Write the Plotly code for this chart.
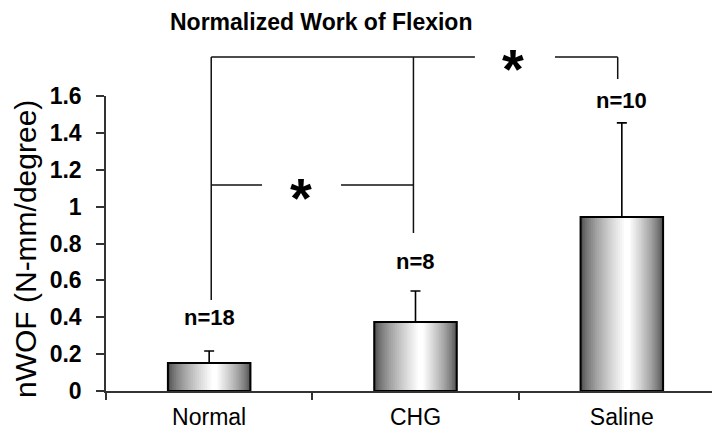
import plotly.graph_objects as go

# ---- data ----
categories = ["Normal", "CHG", "Saline"]
means = [0.152, 0.374, 0.944]
errors = [0.065, 0.168, 0.51]
n_labels = ["n=18", "n=8", "n=10"]
y_ticks = [0, 0.2, 0.4, 0.6, 0.8, 1, 1.2, 1.4, 1.6]
y_tick_text = ["0", "0.2", "0.4", "0.6", "0.8", "1", "1.2", "1.4", "1.6"]

FONT = "Liberation Sans, Arial, sans-serif"
BAR_W = 0.4
Y_MAX = 1.6

fig = go.Figure()

# gradient fill emulated with overlaid bars of decreasing width
N_LAYERS = 22
for k in range(N_LAYERS):
    t = k / (N_LAYERS - 1)
    w = BAR_W * (1 - 0.93 * t)
    shade = int(78 + (255 - 78) * (t ** 0.7))
    shift = 0.025 * t
    fig.add_trace(go.Bar(
        x=categories, y=means,
        width=[w] * 3, offset=[-w / 2 + shift] * 3,
        marker=dict(color=f"rgb({shade},{shade},{shade})", line=dict(width=0)),
        hoverinfo="skip", showlegend=False,
    ))

# outline + error bars
fig.add_trace(go.Bar(
    x=categories, y=means, width=[BAR_W] * 3,
    marker=dict(color="rgba(0,0,0,0)", line=dict(color="black", width=2)),
    error_y=dict(type="data", array=errors, arrayminus=[0] * 3, symmetric=False,
                 color="black", thickness=1.6, width=5),
    showlegend=False,
))


def px(i):
    return (i + 0.5) / 3


def py(v):
    return v / Y_MAX


line = dict(color="#111", width=1.5)
shapes = []
top_y = 1.811
low_y = 1.117
# vertical drops
shapes.append(dict(type="line", xref="paper", yref="paper", x0=px(0.01), x1=px(0.01), y0=py(0.494), y1=py(top_y), line=line))
shapes.append(dict(type="line", xref="paper", yref="paper", x0=px(0.99), x1=px(0.99), y0=py(0.857), y1=py(top_y), line=line))
shapes.append(dict(type="line", xref="paper", yref="paper", x0=px(1.98), x1=px(1.98), y0=py(1.692), y1=py(top_y), line=line))
# top bracket
shapes.append(dict(type="line", xref="paper", yref="paper", x0=px(0.01), x1=px(1.288), y0=py(top_y), y1=py(top_y), line=line))
shapes.append(dict(type="line", xref="paper", yref="paper", x0=px(1.676), x1=px(1.98), y0=py(top_y), y1=py(top_y), line=line))
# lower bracket
shapes.append(dict(type="line", xref="paper", yref="paper", x0=px(0.01), x1=px(0.256), y0=py(low_y), y1=py(low_y), line=line))
shapes.append(dict(type="line", xref="paper", yref="paper", x0=px(0.639), x1=px(0.99), y0=py(low_y), y1=py(low_y), line=line))

annotations = []
label_y = [0.396, 0.705, 1.573]
for i, (lab, ly) in enumerate(zip(n_labels, label_y)):
    annotations.append(dict(x=px(i), y=py(ly), xref="paper", yref="paper", text=f"<b>{lab}</b>",
                            showarrow=False, font=dict(family=FONT, size=22, color="black"),
                            xanchor="center", yanchor="middle"))
# asterisks
for ax_, ay_ in [(0.445, 1.047), (1.473, 1.748)]:
    annotations.append(dict(x=px(ax_), y=py(ay_), xref="paper", yref="paper", text="<b>*</b>",
                            showarrow=False, font=dict(family=FONT, size=56, color="black"),
                            xanchor="center", yanchor="middle"))
# y-axis title
annotations.append(dict(x=-0.131, y=0.481, xref="paper", yref="paper", text="nWOF (N-mm/degree)",
                        textangle=-90, showarrow=False, font=dict(family=FONT, size=30, color="black"),
                        xanchor="center", yanchor="middle"))

fig.update_layout(
    width=720, height=430,
    margin=dict(l=98, r=3, t=88, b=47),
    paper_bgcolor="white", plot_bgcolor="white",
    barmode="overlay",
    showlegend=False,
    title=dict(text="<b>Normalized Work of Flexion</b>", xref="container", yref="container",
               x=162 / 720, y=1 - 14 / 430, xanchor="left", yanchor="middle",
               font=dict(family=FONT, size=23, color="black")),
    shapes=shapes,
    annotations=annotations,
    font=dict(family=FONT, color="black"),
)
fig.update_xaxes(
    type="category", range=[-0.5, 2.5],
    showline=True, linecolor="#333", linewidth=1.5,
    ticks="outside", tickson="boundaries", ticklen=7, tickcolor="#333", tickwidth=1.5,
    tickfont=dict(family=FONT, size=23, color="black"),
    ticklabelstandoff=5,
    showgrid=False, zeroline=False, fixedrange=True,
)
fig.update_yaxes(
    range=[0, Y_MAX], tickvals=y_ticks, ticktext=[f"<b>{t}</b>" for t in y_tick_text],
    showline=True, linecolor="#333", linewidth=1.5,
    ticks="outside", ticklen=8, tickcolor="#333", tickwidth=1.5,
    tickfont=dict(family=FONT, size=23, color="black"),
    ticklabelstandoff=10,
    showgrid=False, zeroline=False, fixedrange=True,
)

fig.write_html("out.html")
